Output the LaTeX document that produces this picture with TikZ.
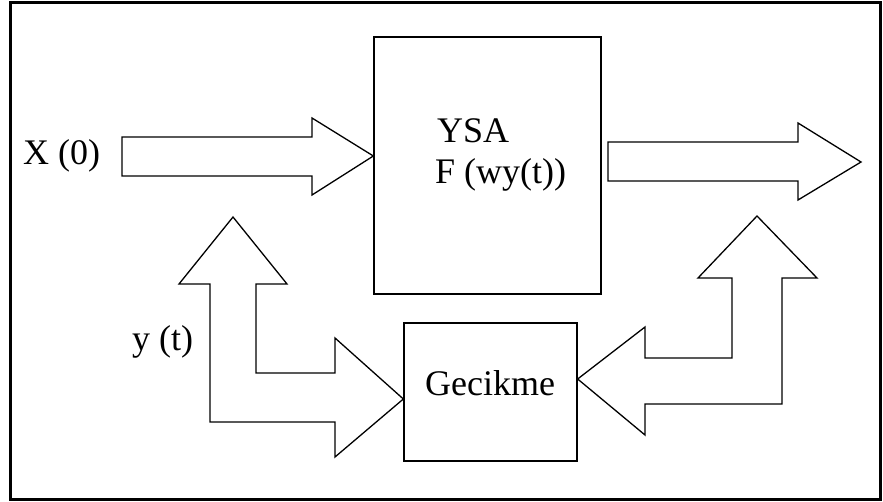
\documentclass[tikz,border=0pt]{standalone}
\usepackage{fontspec}
\setmainfont{Liberation Serif}
\begin{document}
\begin{tikzpicture}[x=1pt,y=-1pt,
  lbl/.style={inner sep=0pt,anchor=base west,font=\fontsize{36}{41}\selectfont},
  blk/.style={draw,line width=1.3pt,inner sep=0pt},
  barrow/.style={draw,line width=1.3pt,line join=miter,fill=white}]
\useasboundingbox (0,0) rectangle (883,502);
\draw[line width=3pt] (10,2.5) rectangle (880,499);
% boxes
\node[blk,minimum width=227pt,minimum height=257pt] (ysa) at (487.5,165.5) {};
\node[blk,minimum width=173pt,minimum height=138pt] (gec) at (490.5,392) {};
% texts
\node[lbl] (t1) at (437,143) {YSA};
\node[lbl] (t2) at (435,184) {F (wy(t))};
\node[lbl] (t3) at (425,395) {Gecikme};
\node[lbl] (x0) at (23,165) {X (0)};
\node[lbl] (yt) at (132,350) {y (t)};
% input arrow
\draw[barrow] (122,137) -- (312,137) -- (312,118) -- (ysa.west |- 0,156) -- (312,195) -- (312,176) -- (122,176) -- cycle;
% output arrow
\draw[barrow] (608,142) -- (798,142) -- (798,123) -- (861,162) -- (798,200) -- (798,181) -- (608,181) -- cycle;
% left L arrow
\draw[barrow] (233,217) -- (287,284) -- (256,284) -- (256,373) -- (335,373) -- (335,338) -- (gec.west |- 0,399) -- (335,457) -- (335,422) -- (210,422) -- (210,284) -- (179,284) -- cycle;
% right L arrow
\draw[barrow] (757,216) -- (817,278) -- (782,278) -- (782,404) -- (645,404) -- (645,435) -- (gec.east |- 0,379) -- (645,327) -- (645,358) -- (732,358) -- (732,278) -- (698,278) -- cycle;
\end{tikzpicture}
\end{document}
